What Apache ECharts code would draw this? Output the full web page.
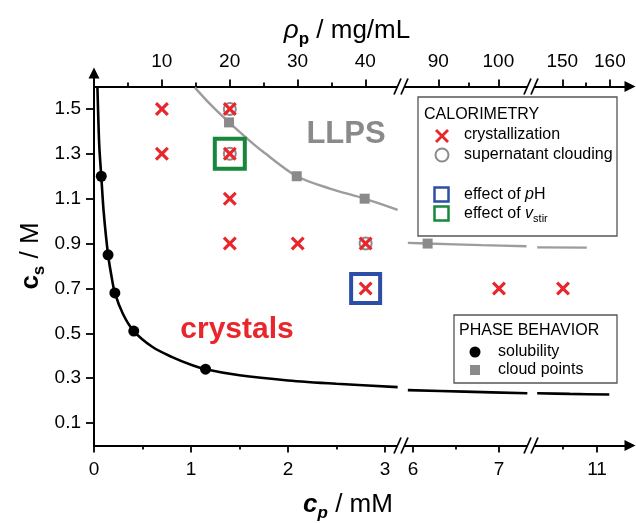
<!DOCTYPE html>
<html>
<head>
<meta charset="utf-8">
<script src="https://cdn.jsdelivr.net/npm/echarts@6/dist/echarts.min.js"></script>
<style>html,body{margin:0;padding:0;background:#fff}#c{width:636px;height:523px}</style>
</head>
<body>
<div id="c"></div>
<script>
// ---------------- data ----------------
const MG_PER_MM = 14.3;                       // rho_p (mg/mL) per c_p (mM)
const segRanges = [[0, 3.175], [5.872, 7.384], [10.044, 11.485]];   // c_p (mM) shown in each axis segment
const cpMajorTicks = [[0, 1, 2, 3], [6, 7], [11]];
const cpMinorTicks = [[0.5, 1.5, 2.5], [6.5], [10.5]];
const rhoMajorTicks = [[10, 20, 30, 40], [90, 100], [150, 160]];
const rhoMinorTicks = [[5, 15, 25, 35], [95], [155]];
const csTicks = [0.1, 0.3, 0.5, 0.7, 0.9, 1.1, 1.3, 1.5];

const solubilityPts = [[0.075, 1.2], [0.145, 0.85], [0.215, 0.68], [0.41, 0.51], [1.15, 0.34]];
const solCurve1 = [[0.035, 1.6], [0.045, 1.45], [0.055, 1.33], [0.075, 1.2], [0.1, 1.04], [0.145, 0.85], [0.18, 0.755],
  [0.215, 0.68], [0.3, 0.585], [0.41, 0.51], [0.6, 0.44], [0.8, 0.395], [1.0, 0.36], [1.15, 0.34], [1.5, 0.313],
  [2.0, 0.29], [2.5, 0.275], [3.13, 0.26]];
const solCurve2 = [[5.94, 0.247], [6.6, 0.24], [7.33, 0.233]];
const solCurve3 = [[10.12, 0.233], [10.6, 0.23], [11.18, 0.227]];

const cloudPts = [[1.392, 1.44], [2.09, 1.2], [2.79, 1.1], [6.17, 0.9]];
const cloudCurve1 = [[1.04, 1.595], [1.2, 1.52], [1.392, 1.44], [1.6, 1.36], [1.74, 1.31], [2.09, 1.2], [2.44, 1.144],
  [2.79, 1.1], [3.13, 1.05]];
const cloudCurve2 = [[5.94, 0.903], [6.17, 0.9], [6.8, 0.893], [7.32, 0.888]];
const cloudCurve3 = [[10.12, 0.883], [10.85, 0.882]];

const crystallization = [[0.7, 1.5], [0.7, 1.3], [1.4, 1.5], [1.4, 1.3], [1.4, 1.1], [1.4, 0.9], [2.1, 0.9],
  [2.8, 0.9], [2.8, 0.7], [7.0, 0.7], [10.5, 0.7]];
const supernatantClouding = [[1.4, 1.5], [1.4, 1.3], [2.8, 0.9]];
const effectPH = [[2.8, 0.7]];
const effectStir = [[1.4, 1.3]];

// ---------------- layout / style ----------------
const FONT = '"Liberation Sans", Arial, Helvetica, sans-serif';
const RED = '#e8262b', GRAY = '#8a8a8a', LGRAY = '#9c9c9c', BLUE = '#2d4ea6', GREEN = '#17883b';
const GRID_TOP = 86.5, GRID_H = 359;
const segPx = [[94, 308], [402, 130], [532, 98]];
const X_PATH = 'path://M1.6,0L5,3.4L8.4,0L10,1.6L6.6,5L10,8.4L8.4,10L5,6.6L1.6,10L0,8.4L3.4,5L0,1.6Z';
const solCurves = [solCurve1, solCurve2, solCurve3];
const cloudCurves = [cloudCurve1, cloudCurve2, cloudCurve3];

const grids = [], xAxes = [], yAxes = [], series = [];
const lineStyle = {color: '#000', width: 2};
const tickStyle = {color: '#000', width: 1.8};
const labelStyle = {fontSize: 19, color: '#000', fontFamily: FONT};

segRanges.forEach((r, i) => {
  const [left, width] = segPx[i];
  const last = i === segRanges.length - 1;
  grids.push({left, top: GRID_TOP, width, height: GRID_H, outerBoundsMode: 'none'});
  const arrow = last ? ['none', 'triangle'] : ['none', 'none'];
  // bottom c_p axis (major + labels)
  xAxes.push({type: 'value', gridIndex: i, position: 'bottom', min: r[0], max: r[1],
    axisLine: {show: true, onZero: false, symbol: arrow, symbolSize: [11, 11], lineStyle},
    axisTick: {show: true, inside: false, length: 7, customValues: cpMajorTicks[i], lineStyle: tickStyle},
    axisLabel: Object.assign({show: true, customValues: cpMajorTicks[i], margin: 15}, labelStyle),
    splitLine: {show: false}});
  // bottom minor ticks
  xAxes.push({type: 'value', gridIndex: i, position: 'bottom', min: r[0], max: r[1],
    axisLine: {show: false, onZero: false},
    axisTick: {show: true, inside: false, length: 4, customValues: cpMinorTicks[i], lineStyle: tickStyle},
    axisLabel: {show: false}, splitLine: {show: false}});
  // top rho_p axis
  xAxes.push({type: 'value', gridIndex: i, position: 'top', min: r[0] * MG_PER_MM, max: r[1] * MG_PER_MM,
    axisLine: {show: true, onZero: false, symbol: arrow, symbolSize: [11, 11], lineStyle},
    axisTick: {show: true, inside: false, length: 7, customValues: rhoMajorTicks[i], lineStyle: tickStyle},
    axisLabel: Object.assign({show: true, customValues: rhoMajorTicks[i], margin: 15}, labelStyle),
    splitLine: {show: false}});
  xAxes.push({type: 'value', gridIndex: i, position: 'top', min: r[0] * MG_PER_MM, max: r[1] * MG_PER_MM,
    axisLine: {show: false, onZero: false},
    axisTick: {show: true, inside: false, length: 4, customValues: rhoMinorTicks[i], lineStyle: tickStyle},
    axisLabel: {show: false}, splitLine: {show: false}});
  // y axis
  if (i === 0) {
    yAxes.push({type: 'value', gridIndex: 0, position: 'left', min: 0, max: 1.6,
      axisLine: {show: false, onZero: false},
      axisTick: {show: true, inside: false, length: 8, customValues: csTicks, lineStyle: tickStyle},
      axisLabel: Object.assign({show: true, customValues: csTicks, margin: 13, formatter: v => v.toFixed(1)}, labelStyle),
      splitLine: {show: false}});
  } else {
    yAxes.push({type: 'value', gridIndex: i, min: 0, max: 1.6, show: false});
  }

  const ax = {xAxisIndex: 4 * i, yAxisIndex: i, animation: false, silent: true};
  const inSeg = p => p[0] >= r[0] && p[0] <= r[1];
  series.push(Object.assign({type: 'line', data: solCurves[i], smooth: 0.3, symbol: 'none',
    lineStyle: {color: '#000', width: 2.6}, z: 3}, ax));
  series.push(Object.assign({type: 'line', data: cloudCurves[i], smooth: 0.3, symbol: 'none',
    lineStyle: {color: LGRAY, width: 2.4}, z: 3}, ax));
  series.push(Object.assign({type: 'scatter', data: solubilityPts.filter(inSeg), symbol: 'circle', symbolSize: 11,
    itemStyle: {color: '#000', opacity: 1}, z: 5}, ax));
  series.push(Object.assign({type: 'scatter', data: cloudPts.filter(inSeg), symbol: 'rect', symbolSize: 10,
    itemStyle: {color: GRAY, opacity: 1}, z: 5}, ax));
  series.push(Object.assign({type: 'scatter', data: supernatantClouding.filter(inSeg), symbol: 'circle', symbolSize: 12,
    itemStyle: {color: 'rgba(0,0,0,0)', borderColor: GRAY, borderWidth: 2, opacity: 1}, z: 6}, ax));
  series.push(Object.assign({type: 'scatter', data: crystallization.filter(inSeg), symbol: X_PATH, symbolSize: 14,
    itemStyle: {color: RED, opacity: 1}, z: 7}, ax));
  series.push(Object.assign({type: 'scatter', data: effectPH.filter(inSeg), symbol: 'rect', symbolSize: 29,
    itemStyle: {color: 'rgba(0,0,0,0)', borderColor: BLUE, borderWidth: 4, opacity: 1}, z: 8}, ax));
  series.push(Object.assign({type: 'scatter', data: effectStir.filter(inSeg), symbol: 'rect', symbolSize: 30,
    itemStyle: {color: 'rgba(0,0,0,0)', borderColor: GREEN, borderWidth: 4, opacity: 1}, z: 8}, ax));
});

// vertical axis line with arrow extending above the top axis
grids.push({left: 94, top: 73, width: 20, height: GRID_TOP + GRID_H - 73, outerBoundsMode: 'none'});
xAxes.push({type: 'value', gridIndex: 3, show: false});
yAxes.push({type: 'value', gridIndex: 3, min: 0, max: 1, position: 'left',
  axisLine: {show: true, onZero: false, symbol: ['none', 'triangle'], symbolSize: [11, 11], lineStyle},
  axisTick: {show: false}, axisLabel: {show: false}, splitLine: {show: false}});

// ---------------- graphics: titles, legends, axis breaks ----------------
const g = [];
function txt(x, y, text, extra, el) {
  g.push(Object.assign({type: 'text', x, y, z: 20,
    style: Object.assign({text, fontSize: 16, fontFamily: FONT, fill: '#000', align: 'left', verticalAlign: 'middle'}, extra || {})}, el || {}));
}
// axis titles
const big = {fontSize: 26, fontFamily: FONT, lineHeight: 34, verticalAlign: 'middle', fill: '#000'};
const sub = {fontSize: 17, fontFamily: FONT, fontWeight: 'bold', lineHeight: 18, verticalAlign: 'bottom', fill: '#000'};
txt(347, 31, '{g|ρ}{s|p}{n| / mg/mL}', {align: 'center', rich: {
  g: Object.assign({}, big, {fontStyle: 'italic'}), s: sub, n: big}});
txt(348, 505, '{c|c}{s|p}{n| / mM}', {align: 'center', rich: {
  c: Object.assign({}, big, {fontStyle: 'italic', fontWeight: 'bold'}), s: Object.assign({}, sub, {fontStyle: 'italic'}), n: big}});
txt(0, 0, '{c|c}{s|s}{n| / M}', {align: 'center', rich: {
  c: Object.assign({}, big, {fontWeight: 'bold'}), s: sub, n: big}}, {x: 31, y: 256, rotation: Math.PI / 2});

// region labels
txt(346, 134, 'LLPS', {fontSize: 31, fontWeight: 'bold', fill: GRAY, align: 'center'});
txt(237, 330, 'crystals', {fontSize: 30, fontWeight: 'bold', fill: RED, align: 'center'});

// CALORIMETRY legend
g.push({type: 'rect', z: 15, shape: {x: 418, y: 97, width: 199, height: 139}, style: {fill: '#fff', stroke: '#555', lineWidth: 1.3}});
txt(424, 115, 'CALORIMETRY');
g.push({type: 'line', z: 20, shape: {x1: 436, y1: 130, x2: 448, y2: 142}, style: {stroke: RED, lineWidth: 2.8}});
g.push({type: 'line', z: 20, shape: {x1: 448, y1: 130, x2: 436, y2: 142}, style: {stroke: RED, lineWidth: 2.8}});
txt(464, 135, 'crystallization');
g.push({type: 'circle', z: 20, shape: {cx: 442, cy: 155, r: 6.5}, style: {fill: 'none', stroke: GRAY, lineWidth: 2}});
txt(464, 155, 'supernatant clouding');
g.push({type: 'rect', z: 20, shape: {x: 434.5, y: 187.5, width: 14, height: 14}, style: {fill: 'none', stroke: BLUE, lineWidth: 2.5}});
const n16 = {fontSize: 16, fontFamily: FONT, lineHeight: 20, verticalAlign: 'middle', fill: '#000'};
txt(464, 195, '{n|effect of }{i|p}{n|H}', {rich: {n: n16, i: Object.assign({}, n16, {fontStyle: 'italic'})}});
g.push({type: 'rect', z: 20, shape: {x: 434.5, y: 206.5, width: 14, height: 14}, style: {fill: 'none', stroke: GREEN, lineWidth: 2.5}});
txt(464, 214, '{n|effect of }{i|v}{s|stir}', {rich: {n: n16, i: Object.assign({}, n16, {fontStyle: 'italic'}),
  s: {fontSize: 11, fontFamily: FONT, lineHeight: 12, verticalAlign: 'bottom', fill: '#000'}}});

// PHASE BEHAVIOR legend
g.push({type: 'rect', z: 15, shape: {x: 454, y: 315, width: 163, height: 68}, style: {fill: '#fff', stroke: '#555', lineWidth: 1.3}});
txt(459, 331, 'PHASE BEHAVIOR');
g.push({type: 'circle', z: 20, shape: {cx: 475, cy: 352, r: 5.5}, style: {fill: '#000'}});
txt(498, 352, 'solubility');
g.push({type: 'rect', z: 20, shape: {x: 470, y: 365, width: 10, height: 10}, style: {fill: GRAY}});
txt(498, 370, 'cloud points');

// axis break marks
[402, 532].forEach(bx => {
  [GRID_TOP, GRID_TOP + GRID_H].forEach(ay => {
    g.push({type: 'rect', z: 25, shape: {x: bx - 4.5, y: ay - 3, width: 7, height: 6}, style: {fill: '#fff'}});
    g.push({type: 'line', z: 26, shape: {x1: bx - 8, y1: ay + 8, x2: bx - 1, y2: ay - 8}, style: {stroke: '#000', lineWidth: 1.8}});
    g.push({type: 'line', z: 26, shape: {x1: bx - 1, y1: ay + 8, x2: bx + 6, y2: ay - 8}, style: {stroke: '#000', lineWidth: 1.8}});
  });
});

const chart = echarts.init(document.getElementById('c'));
chart.setOption({
  animation: false,
  backgroundColor: '#fff',
  grid: grids,
  xAxis: xAxes,
  yAxis: yAxes,
  series,
  graphic: {elements: g}
});
</script>
</body>
</html>
